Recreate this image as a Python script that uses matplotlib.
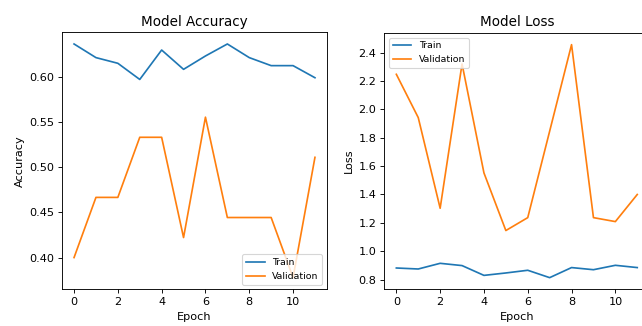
import matplotlib
matplotlib.use("Agg")
import matplotlib.pyplot as plt
from matplotlib.ticker import MultipleLocator

# per-epoch history
epochs = list(range(12))
train_acc = [0.6367, 0.6216, 0.6153, 0.5974, 0.6300, 0.6086,
             0.6234, 0.6367, 0.6216, 0.6127, 0.6127, 0.5993]
val_acc = [0.4000, 0.4667, 0.4667, 0.5333, 0.5333, 0.4222,
           0.5556, 0.4444, 0.4444, 0.4444, 0.3778, 0.5111]
train_loss = [0.882, 0.875, 0.915, 0.899, 0.830, 0.847,
              0.866, 0.814, 0.885, 0.870, 0.901, 0.885]
val_loss = [2.247, 1.942, 1.303, 2.320, 1.552, 1.146,
            1.237, 1.846, 2.456, 1.237, 1.209, 1.400]

W, H, DPI = 642, 326, 81
fig = plt.figure(figsize=(W / DPI, H / DPI), dpi=DPI)

# axes placed in pixel terms; the right panel runs past the image edge
ax1 = fig.add_axes([62 / W, (H - 289.3) / H, 265 / W, 257 / H])
ax2 = fig.add_axes([384.3 / W, (H - 289.3) / H, 265 / W, 256.3 / H])

ax1.plot(epochs, train_acc, label="Train")
ax1.plot(epochs, val_acc, label="Validation")
ax1.set_title("Model Accuracy")
ax1.set_xlabel("Epoch")
ax1.set_ylabel("Accuracy")
ax1.legend(loc="lower right", fontsize="small")

ax2.plot(epochs, train_loss, label="Train")
ax2.plot(epochs, val_loss, label="Validation")
ax2.set_title("Model Loss")
ax2.set_xlabel("Epoch")
ax2.set_ylabel("Loss")
ax2.yaxis.set_major_locator(MultipleLocator(0.2))
ax2.legend(loc="upper left", fontsize="small")

fig.savefig("out.png", dpi=DPI)
